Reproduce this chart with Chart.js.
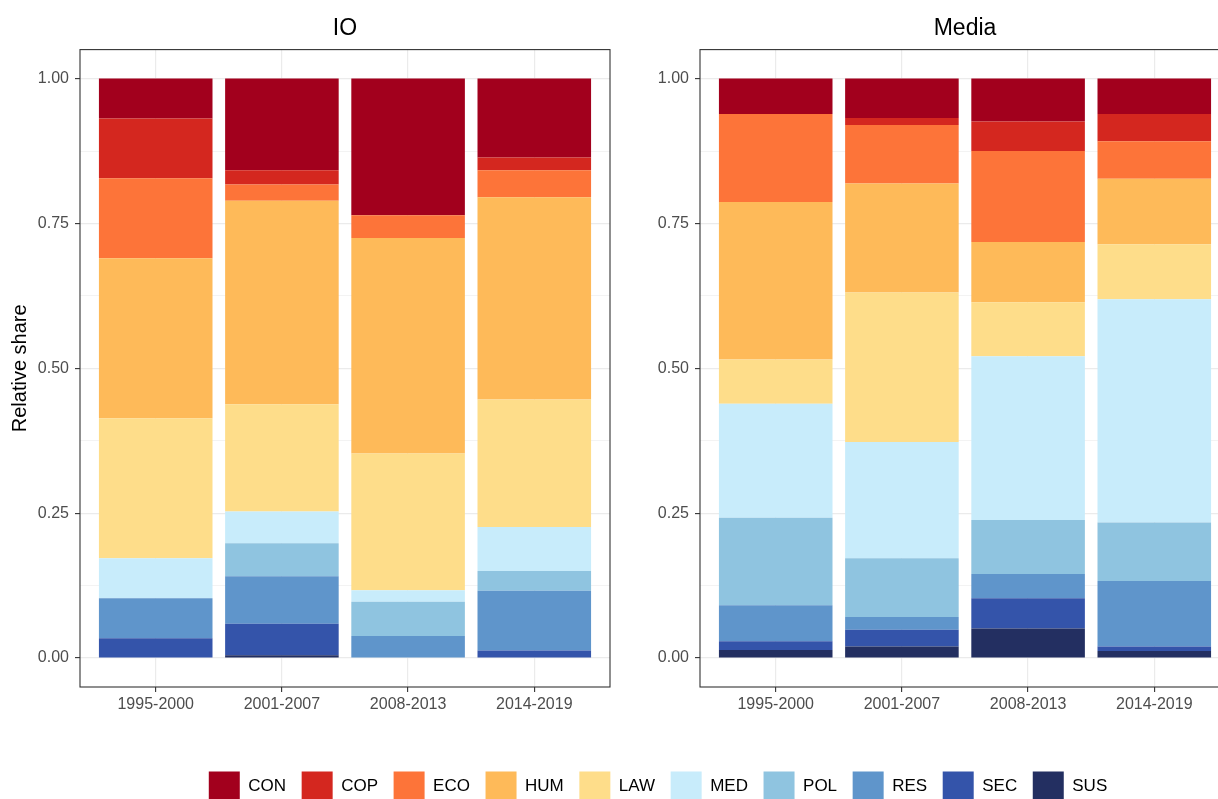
<!DOCTYPE html>
<html>
<head>
<meta charset="utf-8">
<title>Relative share by period</title>
<script src="https://cdn.jsdelivr.net/npm/chart.js@4.4.1/dist/chart.umd.min.js"></script>
<style>
  html, body { margin: 0; padding: 0; background: #fff; overflow: hidden; width: 1218px; height: 799px; }
  .box { position: absolute; overflow: hidden; }
  .inner { position: relative; }
</style>
</head>
<body>
<div class="box" style="left:0; top:0; width:690px; height:720px;">
  <div class="inner" style="width:690px; height:720px;"><canvas id="io"></canvas></div>
</div>
<div class="box" style="left:620px; top:0; width:598px; height:720px;">
  <div class="inner" style="width:690px; height:720px;"><canvas id="media"></canvas></div>
</div>
<div class="box" style="left:0; top:756px; width:1218px; height:43px;">
  <div class="inner" style="width:1218px; height:140px;"><canvas id="legend"></canvas></div>
</div>
<script>
// Periods and topic codes
const categories = ['1995-2000', '2001-2007', '2008-2013', '2014-2019'];
const topics = ['CON', 'COP', 'ECO', 'HUM', 'LAW', 'MED', 'POL', 'RES', 'SEC', 'SUS'];
const yTickValues = [0, 0.25, 0.5, 0.75, 1];

// IO: share of each topic per period
const ioCON = [0.069, 0.158, 0.236, 0.136];
const ioCOP = [0.103, 0.025, 0.000, 0.022];
const ioECO = [0.138, 0.028, 0.039, 0.047];
const ioHUM = [0.276, 0.351, 0.372, 0.349];
const ioLAW = [0.242, 0.185, 0.236, 0.220];
const ioMED = [0.069, 0.055, 0.020, 0.076];
const ioPOL = [0.000, 0.057, 0.059, 0.034];
const ioRES = [0.069, 0.082, 0.038, 0.103];
const ioSEC = [0.034, 0.054, 0.000, 0.013];
const ioSUS = [0.000, 0.005, 0.000, 0.000];

// Media: share of each topic per period
const mediaCON = [0.061, 0.068, 0.074, 0.061];
const mediaCOP = [0.000, 0.012, 0.051, 0.047];
const mediaECO = [0.152, 0.101, 0.157, 0.065];
const mediaHUM = [0.272, 0.188, 0.104, 0.113];
const mediaLAW = [0.076, 0.258, 0.093, 0.095];
const mediaMED = [0.197, 0.201, 0.283, 0.385];
const mediaPOL = [0.151, 0.101, 0.093, 0.101];
const mediaRES = [0.062, 0.022, 0.042, 0.113];
const mediaSEC = [0.015, 0.029, 0.052, 0.008];
const mediaSUS = [0.014, 0.020, 0.051, 0.012];

const ioValues = [ioCON, ioCOP, ioECO, ioHUM, ioLAW, ioMED, ioPOL, ioRES, ioSEC, ioSUS];
const mediaValues = [mediaCON, mediaCOP, mediaECO, mediaHUM, mediaLAW, mediaMED, mediaPOL, mediaRES, mediaSEC, mediaSUS];

// Colours, one per topic
const palette = ['#a2001d', '#d4271f', '#fd7439', '#feba59', '#fedd8a',
                 '#c8ecfb', '#8fc4e0', '#5f95cb', '#3454aa', '#232f61'];

const FONT = "'Liberation Sans', Arial, Helvetica, sans-serif";
Chart.defaults.font.family = FONT;
Chart.defaults.animation = false;

// major grid at labelled ticks, minor grid halfway between them
const gridValues = [];
yTickValues.forEach((v, i) => {
  gridValues.push(v);
  if (i < yTickValues.length - 1) gridValues.push((v + yTickValues[i + 1]) / 2);
});
const isMajor = v => yTickValues.some(t => Math.abs(t - v) < 1e-9);

// frame drawn around each panel
const panelBorder = {
  id: 'panelBorder',
  afterDatasetsDraw(chart) {
    const { ctx, chartArea: a } = chart;
    ctx.save();
    ctx.strokeStyle = '#333333';
    ctx.lineWidth = 1.1;
    ctx.strokeRect(a.left, a.top, a.right - a.left, a.bottom - a.top);
    ctx.restore();
  }
};

function makeDatasets(values) {
  // first dataset sits at the bottom of the stack, so SUS goes first
  return topics.map((t, k) => ({
    label: t,
    data: categories.map((c, i) => ({ x: i, y: values[k][i] })),
    backgroundColor: palette[k],
    borderWidth: 0,
    categoryPercentage: 1,
    barPercentage: 0.9,
    yAxisID: 'y'
  })).reverse();
}

function makePanel(id, titleText, values, showYTitle) {
  return new Chart(document.getElementById(id), {
    type: 'bar',
    data: { datasets: makeDatasets(values) },
    options: {
      responsive: true,
      maintainAspectRatio: false,
      layout: { padding: 0 },
      plugins: {
        legend: { display: false },
        tooltip: { enabled: false },
        title: {
          display: true,
          text: titleText,
          color: '#000000',
          font: { family: FONT, size: 23, weight: 'normal' },
          padding: { top: 15, bottom: 7 }
        }
      },
      scales: {
        x: {
          type: 'linear',
          stacked: true,
          min: -0.6,
          max: 3.6,
          offset: false,
          bounds: 'data',
          afterBuildTicks: s => { s.ticks = categories.map((c, i) => ({ value: i })); },
          afterFit: s => { s.height = 33; },
          ticks: {
            autoSkip: false,
            maxRotation: 0,
            padding: 3,
            color: '#4d4d4d',
            font: { family: FONT, size: 16 },
            callback: v => categories[Math.round(v)]
          },
          grid: {
            offset: false,
            color: '#ebebeb',
            lineWidth: 1.2,
            tickColor: '#333333',
            tickLength: 5,
            tickWidth: 1.1
          },
          border: { display: false }
        },
        y: {
          position: 'left',
          stacked: true,
          min: -0.05,
          max: 1.05,
          bounds: 'data',
          afterBuildTicks: s => { s.ticks = gridValues.map(v => ({ value: v })); },
          afterFit: s => { s.width = 80; },
          ticks: {
            autoSkip: false,
            padding: 6,
            color: '#4d4d4d',
            font: { family: FONT, size: 16 },
            callback: v => isMajor(v) ? v.toFixed(2) : ''
          },
          grid: {
            color: '#ebebeb',
            lineWidth: c => (c.tick && isMajor(c.tick.value)) ? 1.2 : 0.6,
            tickColor: c => (c.tick && isMajor(c.tick.value)) ? '#333333' : 'rgba(0,0,0,0)',
            tickLength: 5,
            tickWidth: 1.1
          },
          border: { display: false },
          title: {
            display: showYTitle,
            text: 'Relative share',
            color: '#000000',
            font: { family: FONT, size: 20 },
            padding: { top: 8, bottom: 0 }
          }
        },
        // empty margin on the right so the panel title centres over the panel
        yRight: {
          position: 'right',
          display: true,
          afterFit: s => { s.width = 80; },
          ticks: { display: false },
          grid: { display: false, drawOnChartArea: false, drawTicks: false },
          border: { display: false }
        }
      }
    },
    plugins: [panelBorder]
  });
}

makePanel('io', 'IO', ioValues, true);
makePanel('media', 'Media', mediaValues, false);

// shared legend for both panels
new Chart(document.getElementById('legend'), {
  type: 'bar',
  data: {
    labels: [],
    datasets: topics.map((t, k) => ({ label: t, data: [], backgroundColor: palette[k], borderWidth: 0 }))
  },
  options: {
    responsive: true,
    maintainAspectRatio: false,
    layout: { padding: { left: 98, right: 0, top: 0, bottom: 0 } },
    scales: { x: { display: false }, y: { display: false } },
    plugins: {
      tooltip: { enabled: false },
      legend: {
        display: true,
        position: 'top',
        onClick: null,
        labels: {
          boxWidth: 31,
          boxHeight: 30,
          padding: 15.6,
          color: '#000000',
          font: { family: FONT, size: 17 }
        }
      }
    }
  }
});
</script>
</body>
</html>
